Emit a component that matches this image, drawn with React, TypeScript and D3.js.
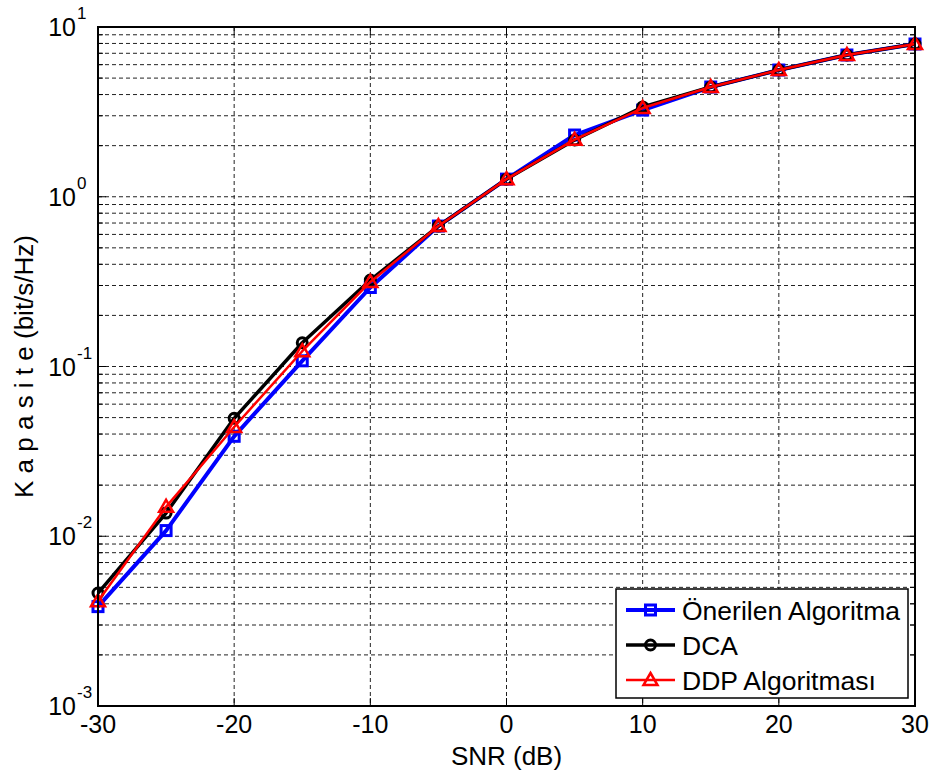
import React from "react";
import * as d3 from "d3";

const snr = [-30, -25, -20, -15, -10, -5, 0, 5, 10, 15, 20, 25, 30];
const proposed = [0.00385, 0.0108, 0.0388, 0.108, 0.292, 0.672, 1.27, 2.31, 3.24, 4.43, 5.58, 6.84, 7.94];
const dca = [0.00463, 0.0137, 0.0495, 0.138, 0.323, 0.672, 1.27, 2.16, 3.38, 4.43, 5.58, 6.84, 7.94];
const ddp = [0.00414, 0.0149, 0.0440, 0.123, 0.315, 0.672, 1.27, 2.17, 3.33, 4.43, 5.58, 6.84, 7.94];
const xTicks = [-30, -20, -10, 0, 10, 20, 30];
const yDecades = [-3, -2, -1, 0, 1];
const seriesNames = ["Önerilen Algoritma", "DCA", "DDP Algoritması"];

const W = 936, H = 774;
const L = 98, R = 915, T = 27, B = 706;

export default function App() {
  const x = d3.scaleLinear().domain([-30, 30]).range([L, R]);
  const y = d3.scaleLog().domain([1e-3, 10]).range([B, T]);

  const minors: number[] = [];
  for (let e = -3; e < 1; e++) for (let m = 2; m <= 9; m++) minors.push(m * Math.pow(10, e));

  const line = d3
    .line<number>()
    .x((_, i) => x(snr[i]))
    .y((d) => y(d));

  const dash = "4,3";
  const font = "Liberation Sans, Arial, Helvetica, sans-serif";

  const square = (cx: number, cy: number, k: string, color: string) => (
    <rect key={k} x={cx - 5} y={cy - 5} width={10} height={10} fill="none" stroke={color} strokeWidth={3} />
  );
  const circle = (cx: number, cy: number, k: string, color: string) => (
    <circle key={k} cx={cx} cy={cy} r={5} fill="none" stroke={color} strokeWidth={3} />
  );
  const tri = (cx: number, cy: number, k: string, color: string) => (
    <path key={k} d={`M${cx},${cy - 7}L${cx + 7},${cy + 5}L${cx - 7},${cy + 5}Z`} fill="none" stroke={color} strokeWidth={2.5} />
  );

  const series = [
    { data: proposed, color: "#0000ff", width: 4, marker: square },
    { data: dca, color: "#000000", width: 3.5, marker: circle },
    { data: ddp, color: "#ff0000", width: 2.5, marker: tri },
  ];

  return (
    <svg width={W} height={H} style={{ position: "absolute", left: 0, top: 0, display: "block" }} fontFamily={font}>
      <rect x={0} y={0} width={W} height={H} fill="#fff" />
      {/* grid */}
      <g stroke="#222" strokeWidth={1} strokeDasharray={dash}>
        {minors.map((v, i) => (
          <line key={"gm" + i} x1={L} x2={R} y1={y(v)} y2={y(v)} />
        ))}
        {yDecades.slice(1, -1).map((e) => (
          <line key={"gM" + e} x1={L} x2={R} y1={y(Math.pow(10, e))} y2={y(Math.pow(10, e))} />
        ))}
        {xTicks.slice(1, -1).map((t) => (
          <line key={"gx" + t} x1={x(t)} x2={x(t)} y1={T} y2={B} />
        ))}
      </g>
      {/* ticks */}
      <g stroke="#000" strokeWidth={1}>
        {xTicks.map((t) => (
          <g key={"tx" + t}>
            <line x1={x(t)} x2={x(t)} y1={B} y2={B - 8} />
            <line x1={x(t)} x2={x(t)} y1={T} y2={T + 8} />
          </g>
        ))}
        {yDecades.map((e) => (
          <g key={"ty" + e}>
            <line x1={L} x2={L + 8} y1={y(Math.pow(10, e))} y2={y(Math.pow(10, e))} />
            <line x1={R} x2={R - 8} y1={y(Math.pow(10, e))} y2={y(Math.pow(10, e))} />
          </g>
        ))}
        {minors.map((v, i) => (
          <g key={"tm" + i}>
            <line x1={L} x2={L + 5} y1={y(v)} y2={y(v)} />
            <line x1={R} x2={R - 5} y1={y(v)} y2={y(v)} />
          </g>
        ))}
      </g>
      {/* series */}
      {series.map((s, si) => (
        <g key={"s" + si}>
          <path d={line(s.data) || ""} fill="none" stroke={s.color} strokeWidth={s.width} strokeLinejoin="round" />
          {s.data.map((v, i) => s.marker(x(snr[i]), y(v), "m" + si + "_" + i, s.color))}
        </g>
      ))}
      {/* frame */}
      <rect x={L} y={T} width={R - L} height={B - T} fill="none" stroke="#000" strokeWidth={2} />
      {/* x tick labels */}
      {xTicks.map((t) => (
        <text key={"lx" + t} x={x(t)} y={733} fontSize={25} textAnchor="middle" fill="#000">
          {t}
        </text>
      ))}
      {/* y tick labels */}
      {yDecades.map((e) => {
        const yy = y(Math.pow(10, e));
        return (
          <g key={"ly" + e}>
            <text x={76} y={yy + 9} fontSize={25} textAnchor="end" fill="#000">
              10
            </text>
            <text x={77} y={yy - 8} fontSize={17} textAnchor="start" fill="#000">
              {e}
            </text>
          </g>
        );
      })}
      {/* axis labels */}
      <text x={(L + R) / 2} y={765} fontSize={26} textAnchor="middle" fill="#000">
        SNR (dB)
      </text>
      <text transform={`translate(33,${(T + B) / 2}) rotate(-90)`} fontSize={26} textAnchor="middle" fill="#000">
        K a p a s i t e (bit/s/Hz)
      </text>
      {/* legend */}
      <g>
        <rect x={616} y={589} width={292} height={109} fill="#fff" stroke="#000" strokeWidth={1.5} />
        {series.map((s, i) => {
          const ly = 610 + i * 35;
          return (
            <g key={"lg" + i}>
              <line x1={626} x2={675} y1={ly} y2={ly} stroke={s.color} strokeWidth={s.width} />
              {s.marker(650.5, ly, "lm" + i, s.color)}
              <text x={682} y={ly + 10} fontSize={26.5} fill="#000">
                {seriesNames[i]}
              </text>
            </g>
          );
        })}
      </g>
    </svg>
  );
}
